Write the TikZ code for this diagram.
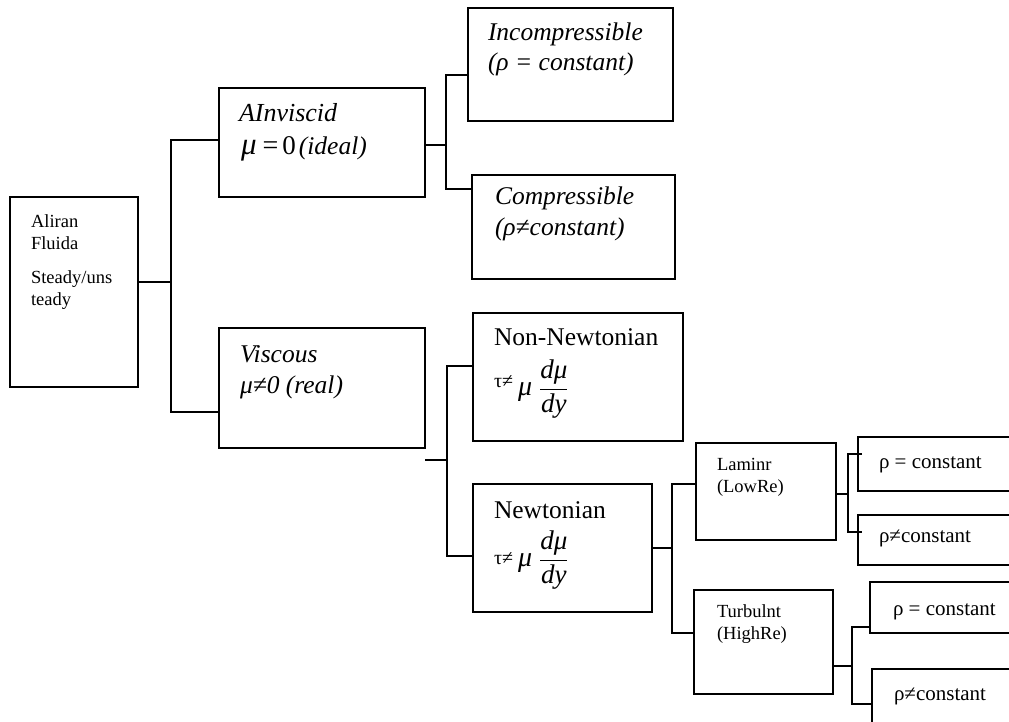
\documentclass[tikz,border=0pt]{standalone}
\usepackage{fontspec}
\setmainfont{Liberation Serif}
\tikzset{
  box/.style={draw, rectangle, inner sep=0pt, outer sep=0pt, anchor=north west, line width=1.8pt},
  conn/.style={draw, line width=1.8pt, line join=miter},
  txt/.style={anchor=base west, inner sep=0pt, outer sep=0pt},
}
\newcommand{\fs}[1]{\fontsize{#1}{#1}\selectfont}
\newcommand{\tauform}[1]{\raisebox{#1}{\fs{20}τ≠}\hspace{5pt}{\fs{28}\itshape μ}\hspace{7pt}{\fs{27}$\displaystyle\frac{\mbox{\itshape dμ}}{\mbox{\itshape dy}}$}}
\begin{document}
\begin{tikzpicture}[x=1pt,y=-1pt]
\useasboundingbox (0,0) rectangle (1009,722);
\clip (0,0) rectangle (1009,722);
% boxes
\node[box, minimum width=128, minimum height=190] (aliran) at (10,197) {};
\node[box, minimum width=206, minimum height=109] (inv) at (219,88) {};
\node[box, minimum width=206, minimum height=120] (visc) at (219,328) {};
\node[box, minimum width=205, minimum height=113] (incomp) at (468,8) {};
\node[box, minimum width=203, minimum height=104] (comp) at (472,175) {};
\node[box, minimum width=210, minimum height=128] (nonnewt) at (473,313) {};
\node[box, minimum width=179, minimum height=128] (newt) at (473,484) {};
\node[box, minimum width=140, minimum height=97] (lam) at (696,443) {};
\node[box, minimum width=139, minimum height=104] (turb) at (694,590) {};
\node[box, minimum width=180, minimum height=54] (rc1) at (858,437) {};
\node[box, minimum width=180, minimum height=50] (rn1) at (858,515) {};
\node[box, minimum width=180, minimum height=51] (rc2) at (870,582) {};
\node[box, minimum width=180, minimum height=80] (rn2) at (872,669) {};
% connectors level 1
\coordinate (a1) at (171,282);
\coordinate (a2) at (171,140);
\coordinate (a3) at (171,412);
\draw[conn] (aliran.east |- a1) -- (a1);
\draw[conn] (inv.west |- a2) -- (a2) -- (a3) -- (visc.west |- a3);
% inviscid
\coordinate (b1) at (446,145);
\coordinate (b2) at (446,75);
\coordinate (b3) at (446,189);
\draw[conn] (inv.east |- b1) -- (b1);
\draw[conn] (incomp.west |- b2) -- (b2) -- (b3) -- (comp.west |- b3);
% viscous
\coordinate (c1) at (447,460);
\coordinate (c2) at (447,366);
\coordinate (c3) at (447,556);
\draw[conn] (visc.east |- c1) -- (c1);
\draw[conn] (nonnewt.west |- c2) -- (c2) -- (c3) -- (newt.west |- c3);
% newtonian
\coordinate (d1) at (672,548);
\coordinate (d2) at (672,484);
\coordinate (d3) at (672,633);
\draw[conn] (newt.east |- d1) -- (d1);
\draw[conn] (lam.west |- d2) -- (d2) -- (d3) -- (turb.west |- d3);
% laminar
\coordinate (e1) at (848,494);
\coordinate (e2) at (848,454);
\coordinate (e3) at (848,532);
\coordinate (e2r) at (862,454);
\coordinate (e3r) at (862,532);
\draw[conn] (lam.east |- e1) -- (e1);
\draw[conn] (e2r) -- (e2) -- (e3) -- (e3r);
% turbulent
\coordinate (f1) at (852,666);
\coordinate (f2) at (852,627);
\coordinate (f3) at (852,704);
\draw[conn] (turb.east |- f1) -- (f1);
\draw[conn] (rc2.west |- f2) -- (f2) -- (f3) -- (rn2.west |- f3);
% texts
\node[txt] (ta1) at (31,227) {\fs{18.5}Aliran};
\node[txt] (ta2) at (31,249) {\fs{18.5}Fluida};
\node[txt] (ta3) at (31,283) {\fs{18.5}Steady/uns};
\node[txt] (ta4) at (31,305) {\fs{18.5}teady};
\node[txt] (tb1) at (239,122) {\fs{26}\itshape AInviscid};
\node[txt] (tb2) at (241,155) {{\fs{31}\itshape μ}\hspace{6pt}{\fs{28}=}\hspace{4pt}{\fs{27}0}\hspace{3pt}{\fs{25.5}\itshape(ideal)}};
\node[txt] (tc1) at (240,362) {\fs{25.5}\itshape Viscous};
\node[txt] (tc2) at (240,393) {\fs{25.5}\itshape μ≠0 (real)};
\node[txt] (td1) at (488,41) {\fs{25.5}\itshape Incompressible};
\node[txt] (td2) at (488,71) {\fs{25.5}\itshape (ρ = constant)};
\node[txt] (te1) at (495,205) {\fs{25.5}\itshape Compressible};
\node[txt] (te2) at (495,235) {\fs{25.5}\itshape (ρ≠constant)};
\node[txt] (tf1) at (494,345) {\fs{25.5}Non-Newtonian};
\node[txt] (tf2) at (494,395) {\tauform{8pt}};
\node[txt] (tg1) at (494,518) {\fs{25.5}Newtonian};
\node[txt] (tg2) at (494,566) {\tauform{2pt}};
\node[txt] (th1) at (717,470) {\fs{18.5}Laminr};
\node[txt] (th2) at (717,492) {\fs{18.5}(LowRe)};
\node[txt] (ti1) at (717,617) {\fs{18.5}Turbulnt};
\node[txt] (ti2) at (717,639) {\fs{18.5}(HighRe)};
\node[txt] (tj) at (879,468) {\fs{21}ρ = constant};
\node[txt] (tk) at (879,542) {\fs{21}ρ≠constant};
\node[txt] (tl) at (893,615) {\fs{21}ρ = constant};
\node[txt] (tm) at (894,700) {\fs{21}ρ≠constant};
\end{tikzpicture}
\end{document}
